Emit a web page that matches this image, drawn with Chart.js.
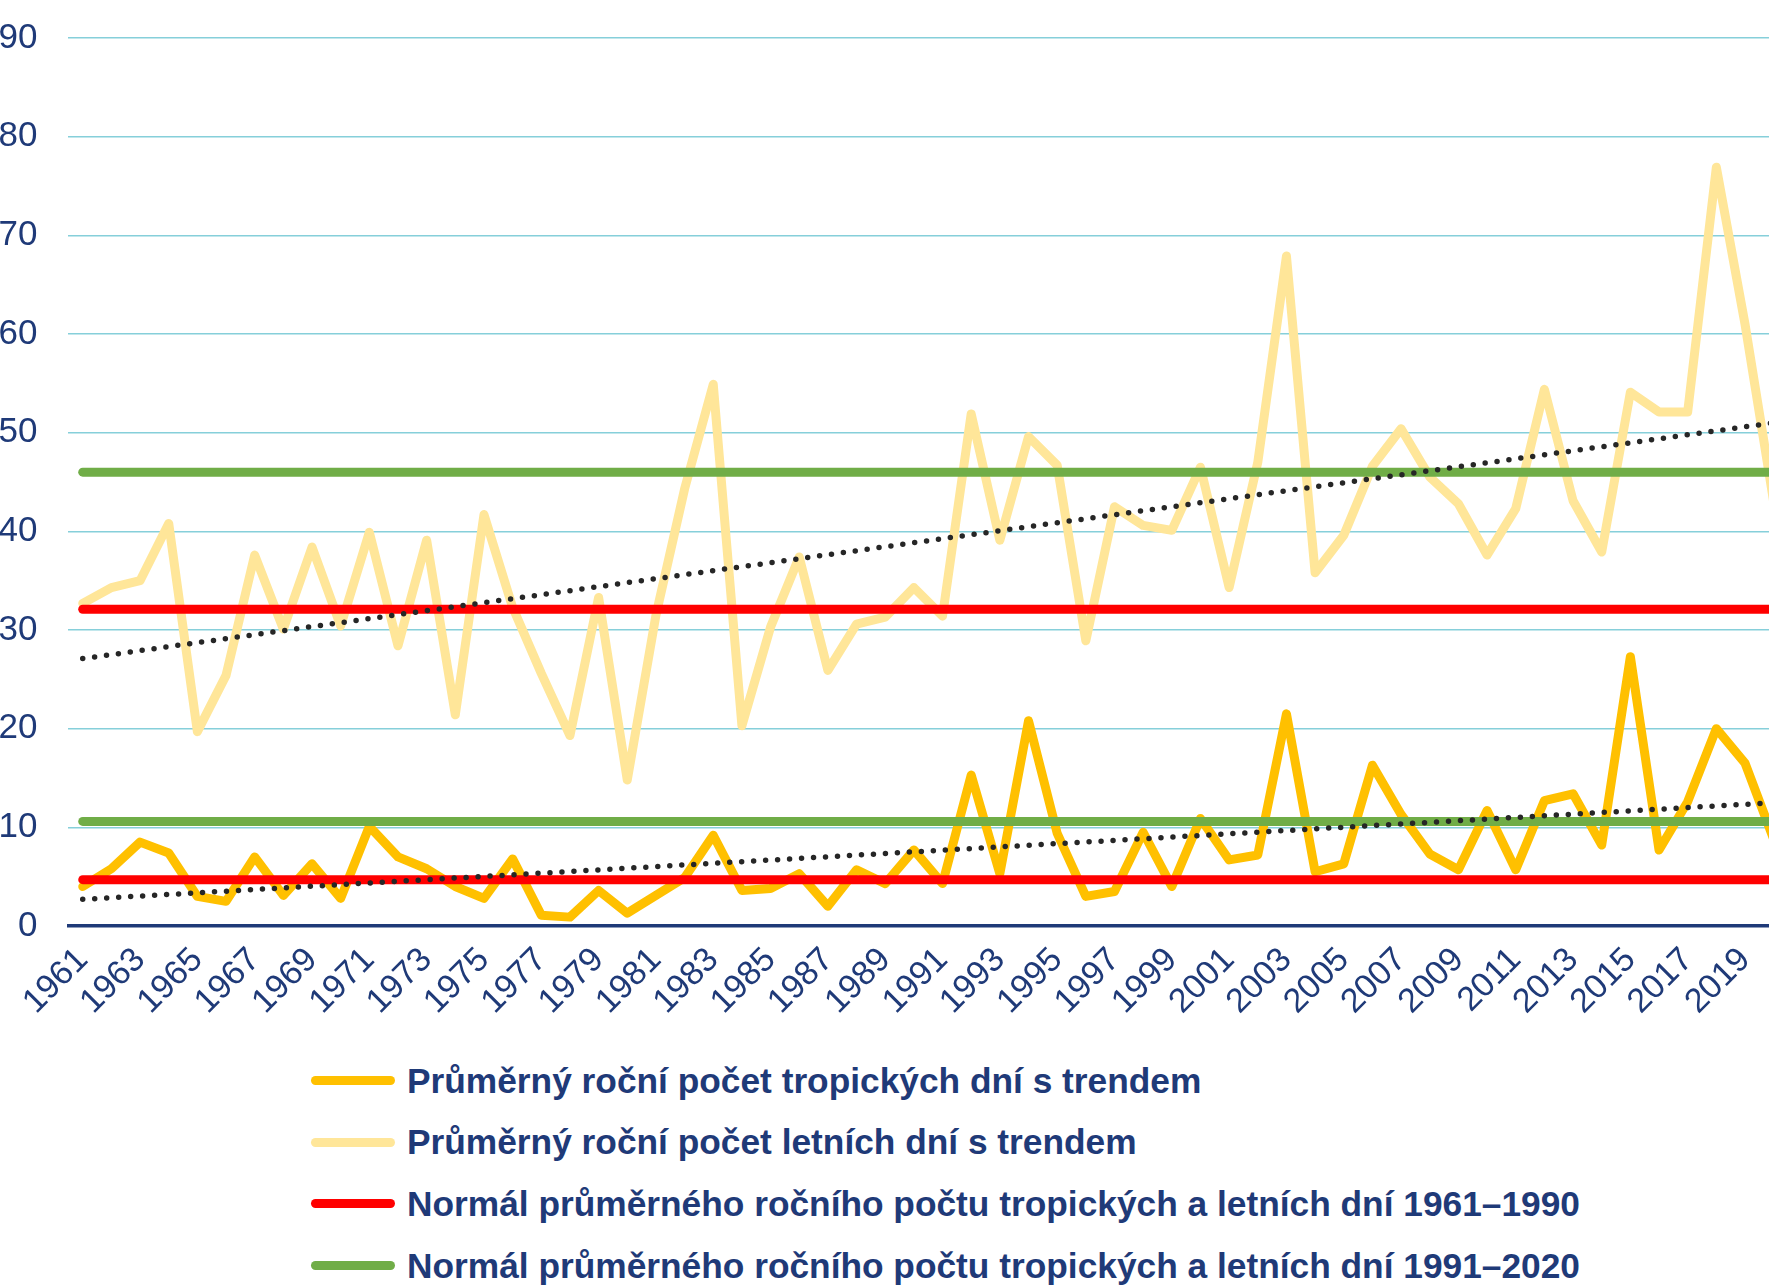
<!DOCTYPE html>
<html lang="cs">
<head>
<meta charset="utf-8">
<title>Tropické a letní dny 1961–2020</title>
<script src="https://cdn.jsdelivr.net/npm/chart.js@4/dist/chart.umd.min.js"></script>
<style>
  html, body { margin: 0; padding: 0; background: #fff; overflow: hidden; }
  #wrap { position: relative; width: 1769px; height: 1288px; overflow: hidden; }
  #chart { position: absolute; left: 0; top: 0; }
  #legend {
    position: absolute; left: 311px; top: 1050px;
    font: bold 35.3px "Liberation Sans", Arial, sans-serif; color: #1F3A78;
  }
  .row { display: flex; align-items: center; height: 61.6px; white-space: nowrap; }
  .swatch { width: 84px; height: 9px; border-radius: 4.5px; margin-right: 12px; }
</style>
</head>
<body>
<div id="wrap">
  <canvas id="chart" width="1788" height="1030"></canvas>
  <div id="legend"></div>
</div>
<script>
var years = ['1961','1962','1963','1964','1965','1966','1967','1968','1969','1970',
             '1971','1972','1973','1974','1975','1976','1977','1978','1979','1980',
             '1981','1982','1983','1984','1985','1986','1987','1988','1989','1990',
             '1991','1992','1993','1994','1995','1996','1997','1998','1999','2000',
             '2001','2002','2003','2004','2005','2006','2007','2008','2009','2010',
             '2011','2012','2013','2014','2015','2016','2017','2018','2019','2020'];

// průměrný roční počet tropických dní
var tropicalDays = [4.0, 5.8, 8.5, 7.4, 3.0, 2.5, 7.0, 3.1, 6.3, 2.8,
                    10.1, 7.0, 5.8, 4.0, 2.8, 6.8, 1.1, 0.9, 3.6, 1.3,
                    3.1, 4.9, 9.2, 3.6, 3.8, 5.3, 2.0, 5.7, 4.3, 7.7,
                    4.3, 15.3, 5.3, 20.8, 9.4, 3.0, 3.5, 9.5, 4.0, 10.9,
                    6.7, 7.2, 21.5, 5.5, 6.3, 16.3, 11.3, 7.3, 5.7, 11.7,
                    5.7, 12.7, 13.4, 8.2, 27.3, 7.7, 12.6, 20.0, 16.5, 8.8];

// průměrný roční počet letních dní
var summerDays = [32.7, 34.3, 35.0, 40.8, 19.7, 25.4, 37.6, 30.1, 38.4, 30.4,
                  39.9, 28.4, 39.1, 21.4, 41.7, 32.3, 25.6, 19.3, 33.3, 14.8,
                  31.5, 44.3, 54.9, 20.3, 30.3, 37.4, 25.9, 30.6, 31.3, 34.3,
                  31.4, 51.9, 39.1, 49.6, 46.7, 28.9, 42.5, 40.6, 40.1, 46.5,
                  34.3, 47.0, 67.9, 35.8, 39.6, 46.6, 50.4, 45.5, 42.8, 37.6,
                  42.3, 54.4, 43.1, 37.9, 54.1, 52.1, 52.1, 76.9, 61.0, 43.0];

// normály (tropické, letní)
var normal6190 = [4.7, 32.1];
var normal9120 = [10.6, 46.0];

// lineární trendy: hodnota v roce 1961 a 2020
var trendTropical = [2.7, 12.5];
var trendSummer = [27.1, 51.0];

var yTicks = [0, 10, 20, 30, 40, 50, 60, 70, 80, 90];

var navy = '#1F3A78';
var fontFamily = '"Liberation Sans", Arial, sans-serif';

// hodnota jen v prvním a posledním roce, mezi nimi čára
function endpoints(pair) {
  var arr = years.map(function() { return null; });
  arr[0] = pair[0];
  arr[years.length - 1] = pair[1];
  return arr;
}

function seriesDs(label, data, color, order, inLegend) {
  return {
    label: label,
    data: data,
    borderColor: color,
    backgroundColor: color,
    borderWidth: 9,
    pointRadius: 0,
    tension: 0,
    spanGaps: true,
    borderJoinStyle: 'round',
    borderCapStyle: 'round',
    order: order,
    inLegend: inLegend
  };
}

function trendDs(pair) {
  return {
    label: 'trend',
    data: endpoints(pair),
    borderColor: '#262626',
    borderWidth: 5.5,
    borderDash: [0, 12],
    borderCapStyle: 'round',
    pointRadius: 0,
    spanGaps: true,
    order: 0,
    inLegend: false
  };
}

var datasets = [
  seriesDs('Průměrný roční počet tropických dní s trendem', tropicalDays, '#FFC000', 2, true),
  seriesDs('Průměrný roční počet letních dní s trendem', summerDays, '#FFE699', 3, true),
  seriesDs('Normál průměrného ročního počtu tropických a letních dní 1961–1990', endpoints([normal6190[0], normal6190[0]]), '#FF0000', 1, true),
  seriesDs('Normál průměrného ročního počtu tropických a letních dní 1961–1990', endpoints([normal6190[1], normal6190[1]]), '#FF0000', 1, false),
  seriesDs('Normál průměrného ročního počtu tropických a letních dní 1991–2020', endpoints([normal9120[0], normal9120[0]]), '#70AD47', 1, true),
  seriesDs('Normál průměrného ročního počtu tropických a letních dní 1991–2020', endpoints([normal9120[1], normal9120[1]]), '#70AD47', 1, false),
  trendDs(trendTropical),
  trendDs(trendSummer)
];

var chart = new Chart(document.getElementById('chart'), {
  type: 'line',
  data: { labels: years, datasets: datasets },
  options: {
    responsive: false,
    animation: false,
    layout: { autoPadding: false, padding: { top: 38, right: 0, bottom: 0, left: 0 } },
    plugins: {
      legend: { display: false },
      tooltip: { enabled: false }
    },
    scales: {
      x: {
        type: 'category',
        offset: true,
        grid: { display: false, drawTicks: false },
        border: { display: true, color: navy, width: 3.5 },
        ticks: {
          color: navy,
          font: { family: fontFamily, size: 34 },
          minRotation: 45,
          maxRotation: 45,
          autoSkip: false,
          padding: 14,
          callback: function(value, index) {
            return index % 2 === 0 ? years[index] : '';
          }
        },
        afterFit: function(scale) {
          scale.height = 104;
          scale.paddingLeft = 0;
          scale.paddingRight = 0;
          scale.paddingTop = 0;
          scale.paddingBottom = 0;
        }
      },
      y: {
        min: yTicks[0],
        max: yTicks[yTicks.length - 1],
        grid: {
          color: function(ctx) { return ctx.tick && ctx.tick.value === 0 ? 'rgba(0,0,0,0)' : '#86CFDA'; },
          lineWidth: 1.5,
          drawTicks: false
        },
        border: { display: false },
        afterBuildTicks: function(scale) {
          scale.ticks = yTicks.map(function(v) { return { value: v }; });
        },
        ticks: {
          color: navy,
          font: { family: fontFamily, size: 35 },
          padding: 31
        },
        afterFit: function(scale) {
          scale.width = 68.4;
          scale.paddingTop = 0;
          scale.paddingBottom = 0;
        }
      }
    }
  }
});

// vlastní legenda pod grafem, jedna položka na řádek
var legend = document.getElementById('legend');
chart.data.datasets.forEach(function(ds) {
  if (!ds.inLegend) return;
  var row = document.createElement('div');
  row.className = 'row';
  var sw = document.createElement('span');
  sw.className = 'swatch';
  sw.style.background = ds.borderColor;
  var txt = document.createElement('span');
  txt.textContent = ds.label;
  row.appendChild(sw);
  row.appendChild(txt);
  legend.appendChild(row);
});
</script>
</body>
</html>
